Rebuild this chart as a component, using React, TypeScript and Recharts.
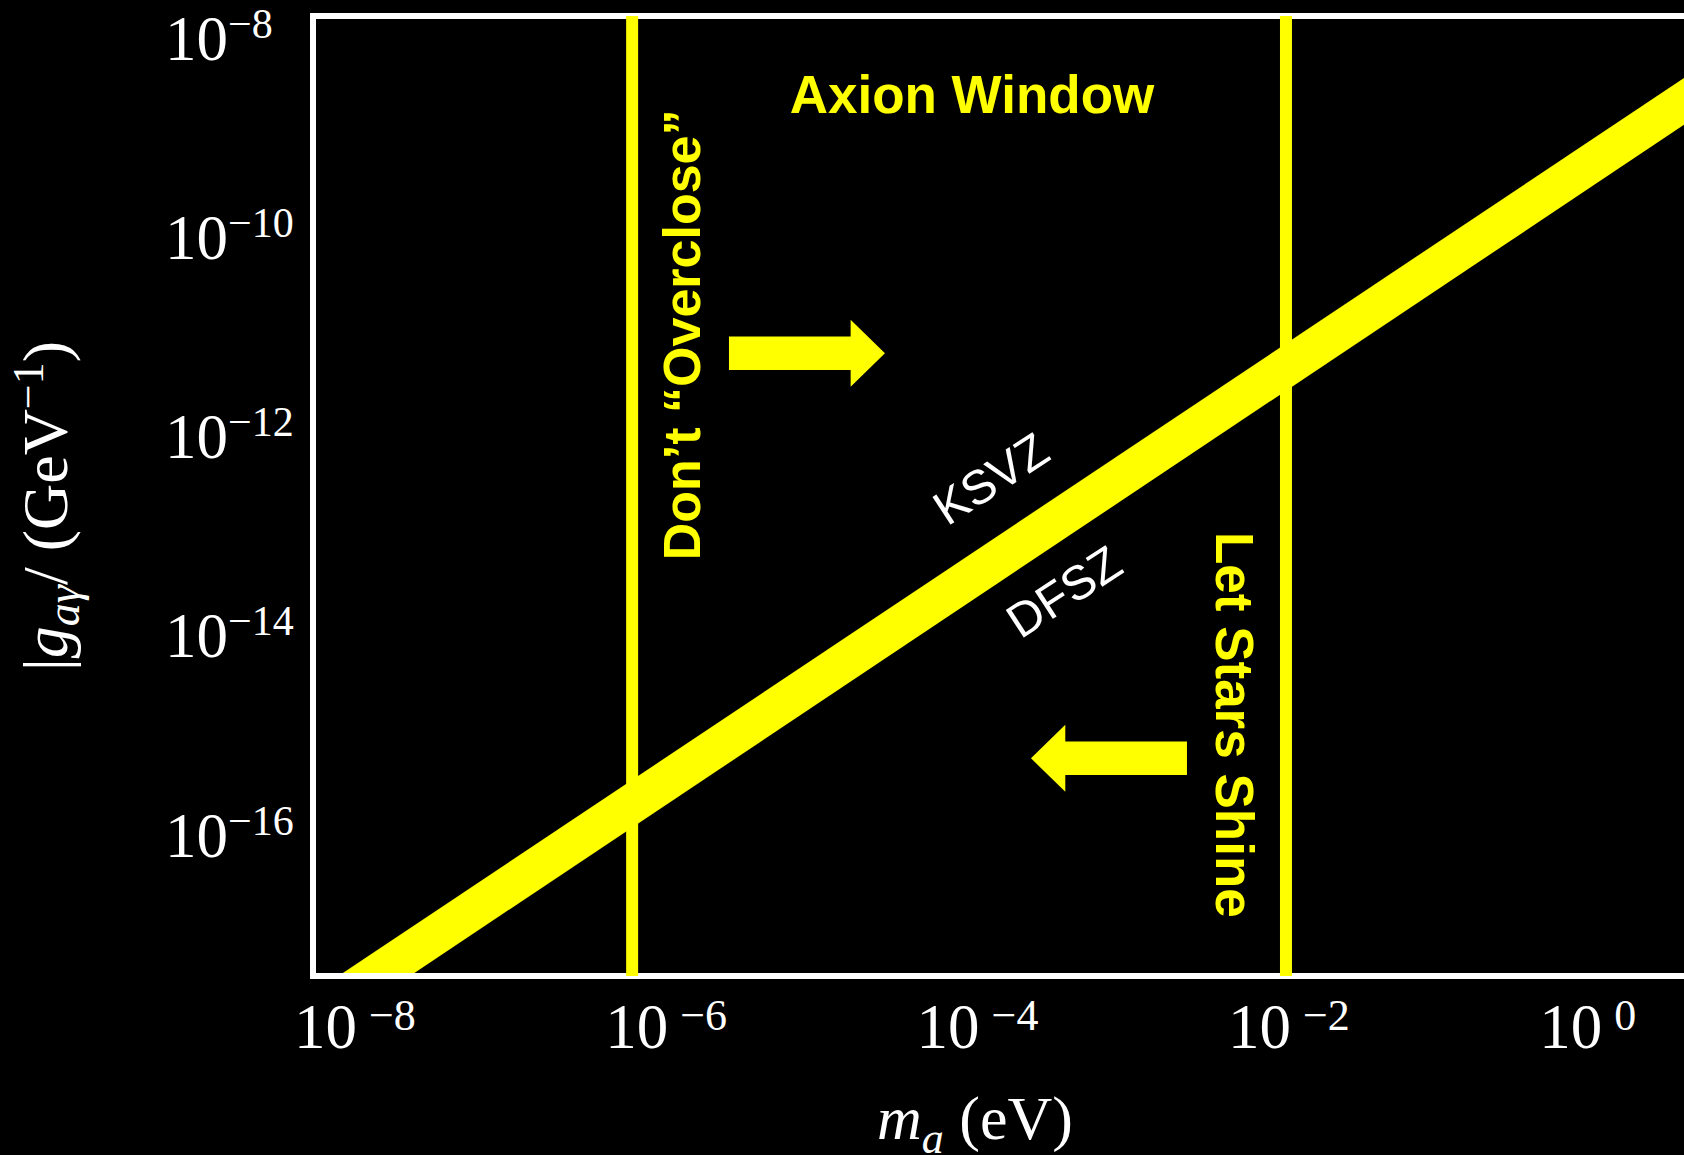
import React from "react"
import {
  ComposedChart,
  Area,
  XAxis,
  YAxis,
  Label,
  ReferenceLine,
  ReferenceArea,
  ReferenceDot,
} from "recharts"

// everything is in log10 units: mass in eV, coupling in GeV^-1
const massRange = [-8.25, 1.0]
const couplingRange = [-17.43, -7.79]
const xTicks = [-8, -6, -4, -2, 0]
const yTicks = [-8, -10, -12, -14, -16]

// model band, edges read at the frame
const bandMass = [-8.25, 1.0]
const ksvzCoupling = [-17.6, -7.95]
const dfszCoupling = [-18.08, -8.42]

// bounds of the window
const overcloseMass = -6.2
const starsMass = -2.0

const bandData = bandMass.map((m, i) => ({ m, band: [dfszCoupling[i], ksvzCoupling[i]] }))

const YELLOW = "#ffff00"
const SERIF = "Liberation Serif, Times New Roman, serif"
const SANS = "Liberation Sans, Arial, sans-serif"

const sup = (v: number) => (v === 0 ? "0" : "\u2212" + Math.abs(v))

function XTick({ x, y, payload }: any) {
  return (
    <text x={x - 58} y={y + 64} fill="#fff" fontFamily={SERIF} fontSize={63}>
      10
      <tspan fontSize={44} dx={12} dy={-18}>
        {sup(payload.value)}
      </tspan>
    </text>
  )
}

function YTick({ x, y, payload }: any) {
  return (
    <text x={x - 140} y={y + 23} fill="#fff" fontFamily={SERIF} fontSize={63}>
      10
      <tspan fontSize={42} dy={-22}>
        {sup(payload.value)}
      </tspan>
    </text>
  )
}

function XTitle({ viewBox }: any) {
  const cx = viewBox.x + 662
  const cy = viewBox.y + 163
  return (
    <text x={cx} y={cy} fill="#fff" fontFamily={SERIF} fontSize={62} textAnchor="middle">
      <tspan fontStyle="italic">m</tspan>
      <tspan fontStyle="italic" fontSize={44} dy={14}>a</tspan>
      <tspan dy={-14}> (eV)</tspan>
    </text>
  )
}

function YTitle({ viewBox }: any) {
  const cx = viewBox.x + 67
  const cy = viewBox.y + 490
  return (
    <text
      x={cx}
      y={cy}
      transform={`rotate(-90, ${cx}, ${cy})`}
      fill="#fff"
      fontFamily={SERIF}
      fontSize={64}
      textAnchor="middle"
    >
      |<tspan fontStyle="italic">g</tspan>
      <tspan fontStyle="italic" fontSize={46} dy={12}>aγ</tspan>
      <tspan dy={-12}>/ (GeV</tspan>
      <tspan fontSize={44} dy={-24}>{"\u22121"}</tspan>
      <tspan dy={24}>)</tspan>
    </text>
  )
}

function Arrow({ x, y, width, height, dir }: any) {
  const head = width * 0.22
  const t = height * 0.25
  const mid = y + height / 2
  let pts: number[][]
  if (dir === "right") {
    const b = x + width - head
    pts = [[x, mid - t], [b, mid - t], [b, y], [x + width, mid], [b, y + height], [b, mid + t], [x, mid + t]]
  } else {
    const b = x + head
    pts = [[x + width, mid - t], [b, mid - t], [b, y], [x, mid], [b, y + height], [b, mid + t], [x + width, mid + t]]
  }
  return <polygon points={pts.map((p) => p.join(",")).join(" ")} fill={YELLOW} />
}

function textShape(label: string, opts: { rotate: number; size: number; bold: boolean; fill: string; anchor?: string }) {
  return (p: any) => (
    <text
      x={p.cx}
      y={p.cy}
      transform={opts.rotate ? `rotate(${opts.rotate}, ${p.cx}, ${p.cy})` : undefined}
      fill={opts.fill}
      style={{ fontFamily: SANS }}
      fontWeight={opts.bold ? "bold" : "normal"}
      fontSize={opts.size}
      textAnchor="middle"
      dominantBaseline={opts.anchor ?? "auto"}
    >
      {label}
    </text>
  )
}

export default function App() {
  return (
    <div
      style={{
        position: "fixed",
        left: 0,
        top: 0,
        width: 1684,
        height: 1155,
        overflow: "hidden",
        background: "#000",
      }}
    >
      <ComposedChart
        width={1773}
        height={1155}
        data={bandData}
        margin={{ top: 16, right: 20, bottom: 0, left: 0 }}
      >
        <XAxis
          type="number"
          dataKey="m"
          domain={massRange}
          ticks={xTicks}
          interval={0}
          allowDataOverflow
          axisLine={false}
          tickLine={false}
          tick={<XTick />}
          height={179}
        >
          <Label content={<XTitle />} />
        </XAxis>
        <YAxis
          type="number"
          domain={couplingRange}
          ticks={yTicks}
          interval={0}
          allowDataOverflow
          axisLine={false}
          tickLine={false}
          tick={<YTick />}
          width={313}
        >
          <Label content={<YTitle />} />
        </YAxis>

        <Area
          dataKey="band"
          type="linear"
          fill={YELLOW}
          fillOpacity={1}
          stroke="none"
          dot={false}
          activeDot={false}
          isAnimationActive={false}
        />

        <ReferenceLine x={overcloseMass} stroke={YELLOW} strokeWidth={12} />
        <ReferenceLine x={starsMass} stroke={YELLOW} strokeWidth={12} />

        <ReferenceArea
          x1={-5.578}
          x2={-4.576}
          y1={-11.514}
          y2={-10.84}
          ifOverflow="visible"
          shape={(p: any) => <Arrow {...p} dir="right" />}
        />
        <ReferenceArea
          x1={-3.638}
          x2={-2.636}
          y1={-15.58}
          y2={-14.908}
          ifOverflow="visible"
          shape={(p: any) => <Arrow {...p} dir="left" />}
        />

        <ReferenceDot x={-4.017} y={-8.763} ifOverflow="visible"
          shape={textShape("Axion Window", { rotate: 0, size: 53, bold: true, fill: YELLOW })} />
        <ReferenceDot x={-5.764} y={-10.992} ifOverflow="visible"
          shape={textShape("Don\u2019t \u201cOverclose\u201d", { rotate: -90, size: 52, bold: true, fill: YELLOW })} />
        <ReferenceDot x={-2.45} y={-14.908} ifOverflow="visible"
          shape={textShape("Let Stars Shine", { rotate: 90, size: 53, bold: true, fill: YELLOW })} />
        <ReferenceDot x={-3.895} y={-12.438} ifOverflow="visible"
          shape={textShape("KSVZ", { rotate: -33, size: 48, bold: false, fill: "#fff", anchor: "central" })} />
        <ReferenceDot x={-3.426} y={-13.572} ifOverflow="visible"
          shape={textShape("DFSZ", { rotate: -33, size: 48, bold: false, fill: "#fff", anchor: "central" })} />

        <ReferenceArea
          x1={massRange[0]}
          x2={massRange[1]}
          y1={couplingRange[0]}
          y2={couplingRange[1]}
          fill="none"
          fillOpacity={0}
          stroke="#fff"
          strokeWidth={6}
          ifOverflow="visible"
        />
      </ComposedChart>
    </div>
  )
}
